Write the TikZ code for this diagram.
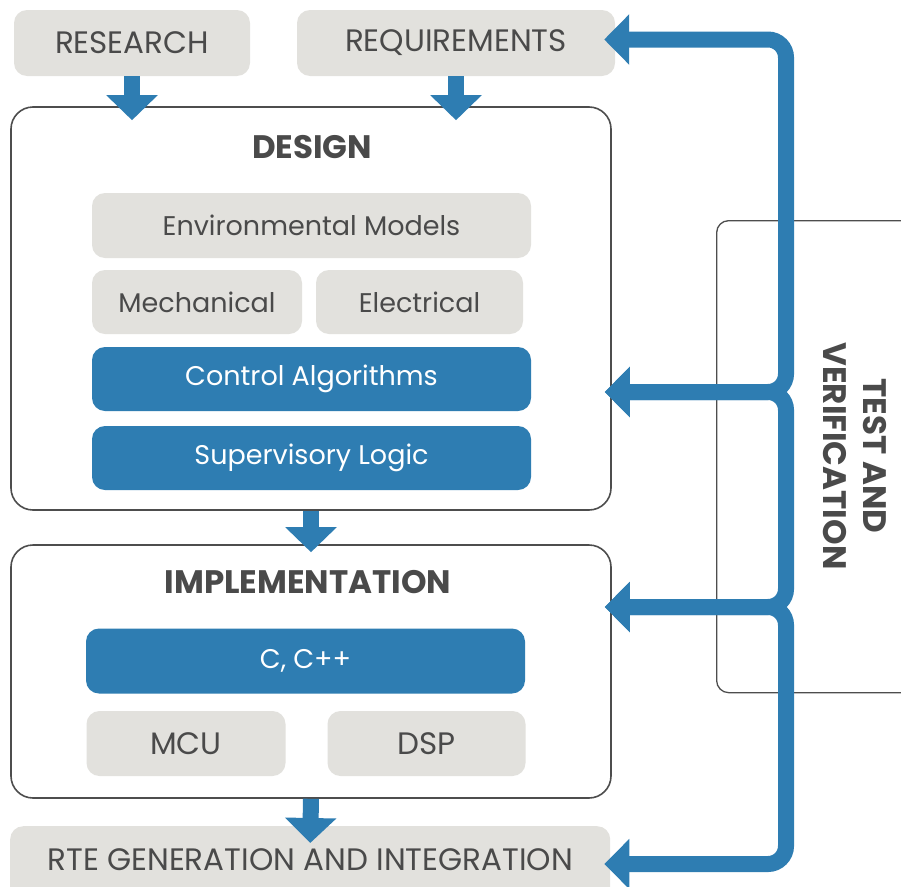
\documentclass[tikz,border=0pt]{standalone}
\usepackage{fontspec}
\setmainfont{Poppins}
\usetikzlibrary{arrows.meta,calc,positioning}
\definecolor{boxgray}{HTML}{E2E1DD}
\definecolor{mwblue}{HTML}{2E7DB2}
\definecolor{txtgray}{HTML}{4A4A4A}
\definecolor{linegray}{HTML}{4D4D4D}

\begin{document}
\begin{tikzpicture}[x=1pt,y=-1pt,
    graybox/.style={fill=boxgray, rounded corners=13pt, inner sep=0pt, text=txtgray, font=\fontsize{27}{30}\selectfont},
    capsbox/.style={graybox, font=\fontsize{31}{34}\selectfont},
    bluebox/.style={fill=mwblue, rounded corners=13pt, inner sep=0pt, text=white, font=\fontsize{27}{30}\selectfont},
    stagebox/.style={draw=linegray, line width=1.6pt, rounded corners=22pt, fill=white, inner sep=0pt},
    stagetitle/.style={text=txtgray, font=\bfseries\fontsize{32.5}{36}\selectfont},
    downarrow/.style={draw=mwblue, line width=16pt, -{Triangle[length=25pt,width=50pt]}},
    feedback/.style={draw=mwblue, line width=16pt, rounded corners=18pt,
      {Triangle[length=25pt,width=49pt]}-{Triangle[length=25pt,width=49pt]}}]
  \useasboundingbox (0,0) rectangle (901,886);

  % inputs
  \node[capsbox, minimum width=236, minimum height=66] (research) at (132,43) {RESEARCH};
  \node[capsbox, minimum width=318, minimum height=66] (req) at (456,43) {REQUIREMENTS};

  % test and verification
  \node[stagebox, rounded corners=12pt, line width=1.3pt, minimum width=230, minimum height=472,
    anchor=north west] (test) at (716,220) {};
  \node[stagetitle, rotate=-90, align=center, font=\bfseries\fontsize{32.5}{40}\selectfont]
    (testlbl) at (855,456) {TEST AND\\VERIFICATION};

  % design
  \node[stagebox, minimum width=600, minimum height=403] (design) at (311,308.5) {};
  \node[stagetitle] (designlbl) at (312,147) {DESIGN};
  \node[graybox, minimum width=439, minimum height=65] (env) at (311.5,225.5) {Environmental Models};
  \node[graybox, minimum width=210, minimum height=64] (mech) at (197,302) {Mechanical};
  \node[graybox, minimum width=207, minimum height=64] (elec) at (419.5,302) {Electrical};
  \node[bluebox, minimum width=439, minimum height=64] (ctrl) at (311.5,379) {Control Algorithms};
  \node[bluebox, minimum width=439, minimum height=64] (superv) at (311.5,458) {Supervisory Logic};

  % implementation
  \node[stagebox, minimum width=600, minimum height=253] (impl) at (311,671.5) {};
  \node[stagetitle] (impllbl) at (308,582) {IMPLEMENTATION};
  \node[bluebox, minimum width=439, minimum height=65] (cpp) at (305.5,661) {C, C++};
  \node[capsbox, minimum width=199, minimum height=65] (mcu) at (186,743.5) {MCU};
  \node[capsbox, minimum width=198, minimum height=65] (dsp) at (426.5,743.5) {DSP};

  % output
  \node[capsbox, minimum width=600, minimum height=76, anchor=north west] (rte) at (10,826)
    {\raisebox{10pt}{RTE GENERATION AND INTEGRATION}};

  % flow down
  \draw[downarrow] (research.south) -- ($(design.north -| research.south)+(0,14)$);
  \draw[downarrow] (req.south) -- ($(design.north -| req.south)+(0,14)$);
  \draw[downarrow] (design.south) -- ($(impl.north)+(0,8)$);
  \draw[downarrow] (impl.south) -- ($(rte.north)+(0,17)$);

  % feedback rail
  \coordinate (rail top) at (786,39.5);
  \coordinate (rail a) at (786,392);
  \coordinate (rail b) at (786,607);
  \coordinate (rail bot) at (786,864);
  \draw[feedback] ($(rail top -| req.east)+(-11,0)$) -- (rail top) -- (rail a) -- ($(rail a -| design.east)+(-7,0)$);
  \draw[feedback] ($(rail a -| design.east)+(-7,0)$) -- (rail a) -- (rail b) -- ($(rail b -| impl.east)+(-7,0)$);
  \draw[feedback] ($(rail b -| impl.east)+(-7,0)$) -- (rail b) -- (rail bot) -- ($(rail bot -| rte.east)+(-6,0)$);
\end{tikzpicture}
\end{document}
